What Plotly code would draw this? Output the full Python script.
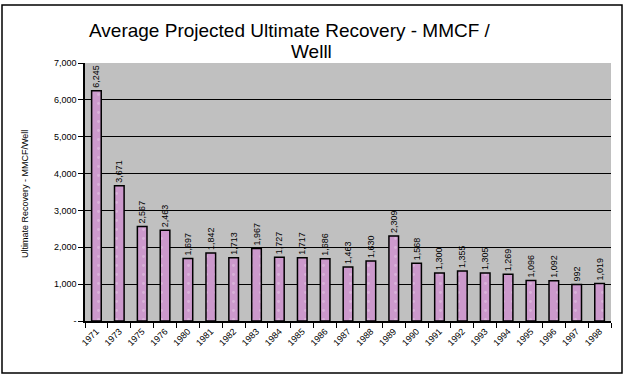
import plotly.graph_objects as go

years = ["1971", "1973", "1975", "1976", "1980", "1981", "1982", "1983", "1984", "1985",
         "1986", "1987", "1988", "1989", "1990", "1991", "1992", "1993", "1994", "1995",
         "1996", "1997", "1998"]
recovery = [6245, 3671, 2567, 2463, 1697, 1842, 1713, 1967, 1727, 1717,
            1686, 1463, 1630, 2309, 1568, 1300, 1355, 1305, 1269, 1096,
            1092, 992, 1019]
y_ticks = [0, 1000, 2000, 3000, 4000, 5000, 6000, 7000]
y_ticktext = ["-", "1,000", "2,000", "3,000", "4,000", "5,000", "6,000", "7,000"]
title_lines = ["Average Projected Ultimate Recovery - MMCF /", "Welll"]

fig = go.Figure()
fig.add_trace(go.Bar(
    x=years, y=recovery, width=0.42,
    marker=dict(color="#CC99CC", line=dict(color="black", width=1.5),
                pattern=dict(shape=".", fgcolor="#E6CCE6", bgcolor="#CC99CC", size=9, solidity=0.08)),
    texttemplate="%{y:,}", textposition="outside", textangle=-90,
    constraintext="none", cliponaxis=False,
    textfont=dict(family="Arial", size=9, color="black"),
))

L, R, T, B = 85, 29, 63, 66
W, H = 640, 387
pw, ph = W - L - R, H - T - B

def px(x):
    return (x - L) / pw

def py(y):
    return (H - B - y) / ph

fig.add_shape(type="rect", xref="paper", yref="paper",
              x0=px(2), x1=px(622), y0=py(373), y1=py(5),
              line=dict(color="black", width=1.5), fillcolor="rgba(0,0,0,0)", layer="below")

fig.add_annotation(text="Ultimate Recovery - MMCF/Well", xref="paper", yref="paper",
                   x=px(25), y=py(194), textangle=-90, showarrow=False,
                   xanchor="center", yanchor="middle",
                   font=dict(family="Arial", size=9, color="black"))

for txt, cx, cy in zip(title_lines, [290, 311], [30, 52]):
    fig.add_annotation(text=txt, xref="paper", yref="paper",
                       x=px(cx), y=py(cy), showarrow=False,
                       xanchor="center", yanchor="middle",
                       font=dict(family="Arial", size=19, color="black"))

fig.update_layout(
    width=W, height=H,
    margin=dict(l=L, r=R, t=T, b=B, autoexpand=False),
    paper_bgcolor="white", plot_bgcolor="#C0C0C0",
    showlegend=False,
    font=dict(family="Arial", color="black"),
    xaxis=dict(type="category", tickangle=-45, tickfont=dict(size=9, family="Arial"),
               ticks="outside", ticklen=5, tickcolor="black", tickson="boundaries",
               showline=True, linecolor="black", linewidth=1.5, showgrid=False,
               automargin=False),
    yaxis=dict(range=[0, 7000], tickvals=y_ticks, ticktext=y_ticktext,
               tickfont=dict(size=9, family="Arial"),
               ticks="outside", ticklen=5, tickcolor="black",
               showline=True, linecolor="black", linewidth=1.5,
               showgrid=True, gridcolor="black", gridwidth=1, zeroline=False,
               automargin=False),
)

fig.write_html("out.html", config={"displayModeBar": False},
               post_script="document.body.style.margin='0';")
